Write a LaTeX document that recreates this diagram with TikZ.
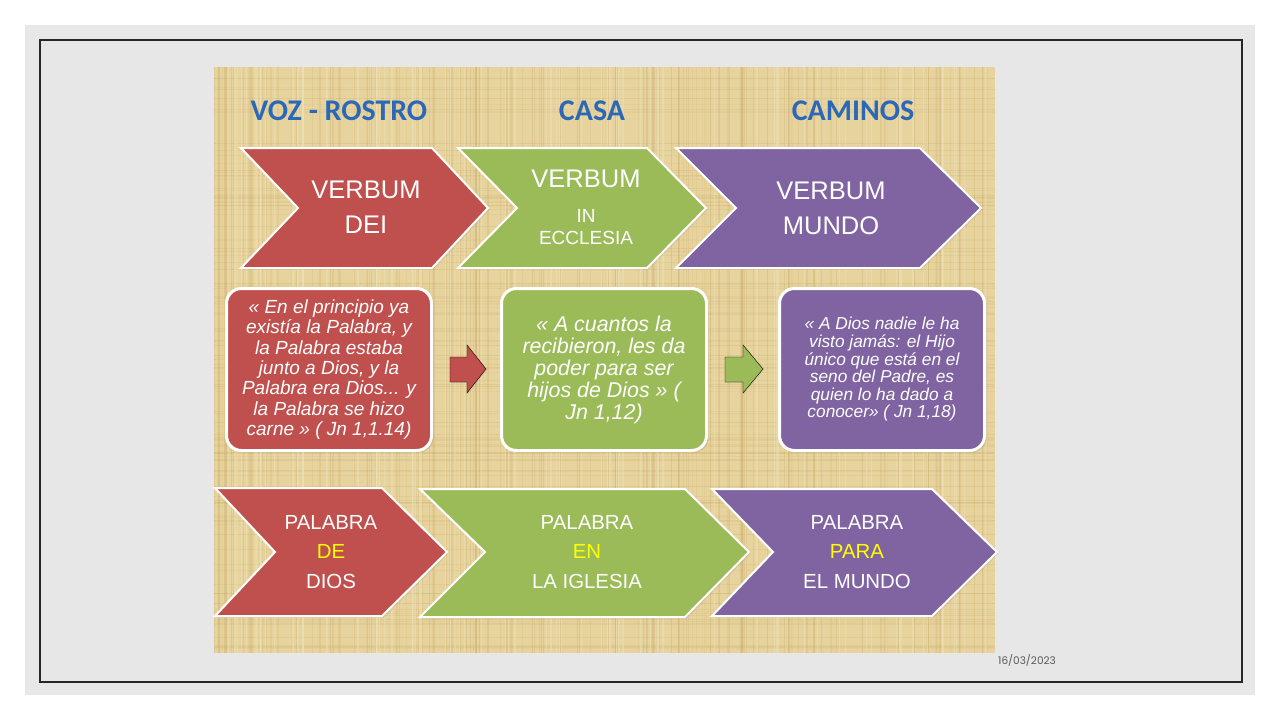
\documentclass[tikz,border=0pt]{standalone}
\usepackage{fontspec}
\setmainfont{Liberation Sans}
\newfontfamily\hdrfont{Carlito}
\newfontfamily\datefont{Poppins}
\usetikzlibrary{shadows}
\definecolor{cred}{HTML}{C0504D}
\definecolor{cgreen}{HTML}{9BBB59}
\definecolor{cpurple}{HTML}{8064A2}
\definecolor{hblue}{HTML}{2B68B8}
\definecolor{paper}{HTML}{E7D39D}
\definecolor{fiber}{HTML}{C4A865}
\definecolor{fiberlight}{HTML}{F3E8C2}
\definecolor{slidebg}{HTML}{E7E7E7}
\definecolor{ytext}{HTML}{FFFF00}
\definecolor{dategray}{HTML}{595959}
\begin{document}
\begin{tikzpicture}[x=1pt,y=-1pt,
  chev/.style={draw=white, line width=2pt, line join=miter,
    drop shadow={opacity=0.2,shadow xshift=1.5pt,shadow yshift=-1.5pt}},
  blockarrow/.style={line join=miter,
    drop shadow={opacity=0.12,shadow xshift=1pt,shadow yshift=-1pt}},
  quotebox/.style={draw=white, line width=3pt, rounded corners=15pt,
    minimum width=205pt, minimum height=162pt, align=center, text=white,
    inner sep=0pt,
    drop shadow={opacity=0.25,shadow xshift=2pt,shadow yshift=-2pt}},
  header/.style={font=\hdrfont\bfseries\fontsize{30}{36}\selectfont, text=hblue, inner sep=0pt},
  chevtext/.style={align=center, text=white, inner sep=0pt},
  bigtext/.style={chevtext, font=\fontsize{25.5}{35}\selectfont},
  lowtext/.style={chevtext, font=\fontsize{20.4}{29.5}\selectfont}
]
\useasboundingbox (0,0) rectangle (1280,720);
\fill[white] (0,0) rectangle (1280,720);
\fill[slidebg] (25,25) rectangle (1255,695);
\draw[black!85, line width=1.2pt] (40,40) rectangle (1242,682);

% textured paper background
\fill[paper] (214,67) rectangle (995,653);
\begin{scope}
\clip (214,67) rectangle (995,653);
\pgfmathsetseed{11}
\foreach \i in {1,...,170}{
  \pgfmathsetmacro\xx{214+rnd*781}
  \pgfmathsetmacro\ww{0.4+rnd*1.4}
  \pgfmathsetmacro\oo{0.10+rnd*0.22}
  \draw[fiber, line width=\ww pt, opacity=\oo] (\xx,67) -- (\xx,653);
}
\foreach \i in {1,...,120}{
  \pgfmathsetmacro\yy{67+rnd*586}
  \pgfmathsetmacro\ww{0.4+rnd*1.2}
  \pgfmathsetmacro\oo{0.08+rnd*0.18}
  \draw[fiber, line width=\ww pt, opacity=\oo] (214,\yy) -- (995,\yy);
}
\foreach \i in {1,...,90}{
  \pgfmathsetmacro\xx{214+rnd*781}
  \pgfmathsetmacro\ww{0.5+rnd*1.5}
  \draw[fiberlight, line width=\ww pt, opacity=0.35] (\xx,67) -- (\xx,653);
}
\end{scope}

% headers
\node[header] (h1) at (339,111) {VOZ - ROSTRO};
\node[header] (h2) at (592,111) {CASA};
\node[header] (h3) at (853,111) {CAMINOS};

% top chevrons
\draw[chev, fill=cred] (241,148) -- (432,148) -- (488,208) -- (432,268) -- (241,268) -- (298,208) -- cycle;
\draw[chev, fill=cgreen] (458,148) -- (647,148) -- (706,208) -- (647,268) -- (458,268) -- (517,208) -- cycle;
\draw[chev, fill=cpurple] (676,148) -- (920,148) -- (981,208) -- (920,268) -- (676,268) -- (736,208) -- cycle;

\node[bigtext] (vdei) at (366,207) {VERBUM\\DEI};
\node[bigtext] (vin) at (586,179) {VERBUM};
\node[chevtext, font=\fontsize{19}{22}\selectfont] (vecc) at (586,227) {IN\\ECCLESIA};
\node[bigtext] (vmun) at (831,208) {VERBUM\\MUNDO};

% quote boxes
\node[quotebox, fill=cred, font=\itshape\fontsize{19}{20.3}\selectfont] (q1) at (329,369.5)
  {« En el principio ya\\existía la Palabra, y\\la Palabra estaba\\junto a Dios, y la\\Palabra era Dios... y\\la Palabra se hizo\\carne » ( Jn 1,1.14)};
\node[quotebox, fill=cgreen, font=\itshape\fontsize{21.4}{22}\selectfont] (q2) at (604,369.5)
  {« A cuantos la\\recibieron, les da\\poder para ser\\hijos de Dios » (\\Jn 1,12)};
\node[quotebox, fill=cpurple, font=\itshape\fontsize{17.3}{17.6}\selectfont] (q3) at (882,369.5)
  {« A Dios nadie le ha\\visto jamás: el Hijo\\único que está en el\\seno del Padre, es\\quien lo ha dado a\\conocer» ( Jn 1,18)};

% block arrows between boxes
\draw[blockarrow, fill=cred] (450,357) -- (467,357) -- (467,345) -- (486,369) -- (467,393) -- (467,382) -- (450,382) -- cycle;
\draw[blockarrow, fill=cgreen] (725,357) -- (743,357) -- (743,345) -- (763,369) -- (743,393) -- (743,382) -- (725,382) -- cycle;

% bottom chevrons
\draw[chev, fill=cred] (215,488) -- (382,488) -- (447,552) -- (382,616) -- (215,616) -- (275,552) -- cycle;
\draw[chev, fill=cgreen] (420,489) -- (685,489) -- (749,552) -- (685,617) -- (420,617) -- (485,552) -- cycle;
\draw[chev, fill=cpurple] (712,489) -- (932,489) -- (997,552) -- (932,616) -- (712,616) -- (773,552) -- cycle;

\node[lowtext] (pdd) at (331,552) {PALABRA\\\textcolor{ytext}{DE}\\DIOS};
\node[lowtext] (pei) at (587,552) {PALABRA\\\textcolor{ytext}{EN}\\LA IGLESIA};
\node[lowtext] (ppm) at (857,552) {PALABRA\\\textcolor{ytext}{PARA}\\EL MUNDO};

% date
\node[font=\datefont\fontsize{10.5}{12}\selectfont, text=dategray, inner sep=0pt] (date) at (1027,660) {16/03/2023};
\end{tikzpicture}
\end{document}
